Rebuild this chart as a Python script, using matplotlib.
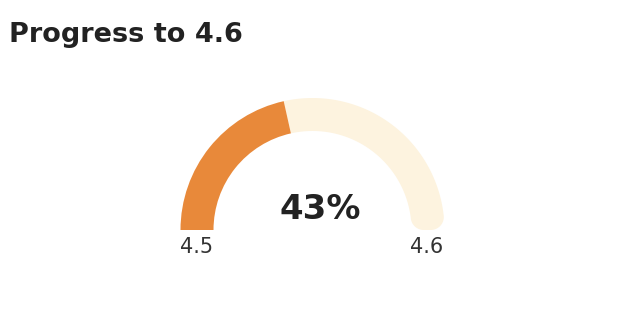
import numpy as np
import matplotlib.pyplot as plt
from matplotlib.patches import Wedge, Polygon

# data
title = "Progress to 4.6"
range_labels = ["4.5", "4.6"]
progress_pct = 43

orange = "#E8893A"
cream = "#FDF3DF"

W, H = 624, 328
fig = plt.figure(figsize=(W / 100, H / 100), dpi=100)
ax = fig.add_axes([0, 0, 1, 1])
ax.set_xlim(0, W)
ax.set_ylim(0, H)
ax.axis("off")

cx, cy = 312.5, H - 230
r_out, thick = 132, 33
r_in = r_out - thick
split = 180 - 180 * progress_pct / 100
rc = 13  # corner radius at the right end

# track (cream): arc band with rounded corners at the right end
phi_o = np.arcsin(rc / (r_out - rc))
phi_i = np.arcsin(rc / (r_in + rc))
co = np.array([cx + (r_out - rc) * np.cos(phi_o), cy + rc])
ci = np.array([cx + (r_in + rc) * np.cos(phi_i), cy + rc])
t = np.linspace(np.radians(split), phi_o, 120)
pts = [np.c_[cx + r_out * np.cos(t), cy + r_out * np.sin(t)]]
t = np.linspace(phi_o, -np.pi / 2, 20)
pts.append(np.c_[co[0] + rc * np.cos(t), co[1] + rc * np.sin(t)])
t = np.linspace(-np.pi / 2, -np.pi + phi_i, 20)
pts.append(np.c_[ci[0] + rc * np.cos(t), ci[1] + rc * np.sin(t)])
t = np.linspace(phi_i, np.radians(split), 120)
pts.append(np.c_[cx + r_in * np.cos(t), cy + r_in * np.sin(t)])
ax.add_patch(Polygon(np.vstack(pts), closed=True, color=cream, lw=0))

# progress (orange)
ax.add_patch(Wedge((cx, cy), r_out, split, 180, width=thick, color=orange, lw=0))

ax.text(320, H - 219, f"{progress_pct}%", ha="center", va="baseline",
        fontsize=24.5, fontweight="bold", family="DejaVu Sans", color="#222222")
ax.text(197, H - 253, range_labels[0], ha="center", va="baseline",
        fontsize=15, family="DejaVu Sans", color="#333333")
ax.text(427, H - 253, range_labels[1], ha="center", va="baseline",
        fontsize=15, family="DejaVu Sans", color="#333333")
ax.text(9, H - 42, title, ha="left", va="baseline",
        fontsize=19.5, fontweight="bold", family="DejaVu Sans", color="#222222")

fig.savefig("out.png", dpi=100)
